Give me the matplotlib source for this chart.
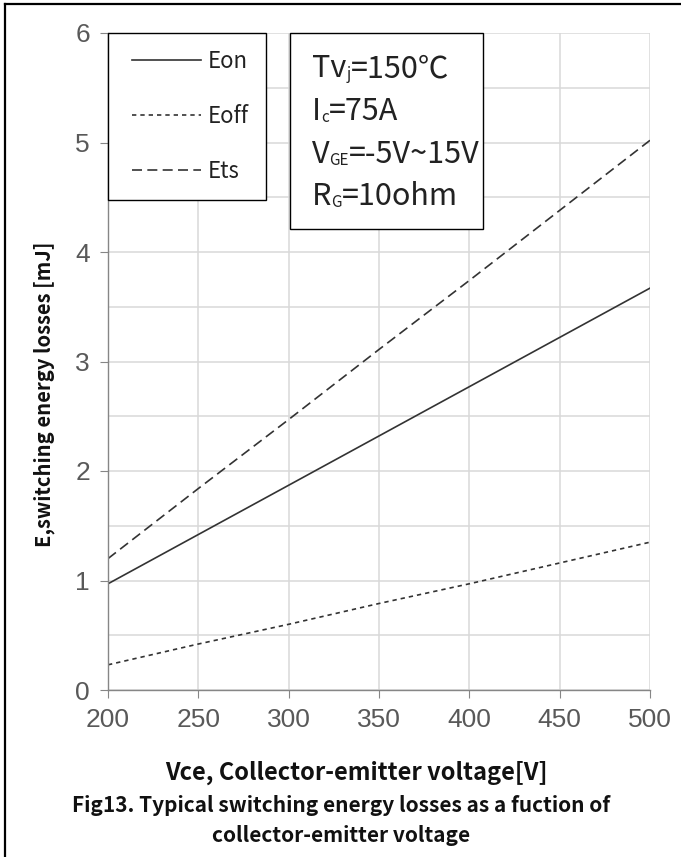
import matplotlib
matplotlib.use("Agg")
import matplotlib.pyplot as plt
from matplotlib.lines import Line2D
from matplotlib.patches import Rectangle
from matplotlib.legend_handler import HandlerLine2D

W, H = 681, 857

vce = [200, 250, 300, 350, 400, 450, 500]
eon = [0.97, 1.42, 1.87, 2.32, 2.77, 3.22, 3.67]
eoff = [0.23, 0.42, 0.60, 0.79, 0.97, 1.16, 1.35]
ets = [1.20, 1.84, 2.47, 3.11, 3.74, 4.38, 5.02]

x_ticks = [200, 250, 300, 350, 400, 450, 500]
y_ticks = [0, 1, 2, 3, 4, 5, 6]

CJK = ['Noto Sans CJK SC', 'DejaVu Sans']
LINE = '#333333'


def px(x, y):
    # pixel (from top-left) -> figure fraction
    return x / W, 1 - y / H


def rich(fig, renderer, x, y, parts, size, sub_size):
    for txt, sub in parts:
        fs = sub_size if sub else size
        dy = 2 if sub else 0
        fx, fy = px(x, y + dy)
        t = fig.text(fx, fy, txt, fontsize=fs, va='baseline', ha='left',
                     family=CJK, color='#222222')
        x += t.get_window_extent(renderer).width


fig = plt.figure(figsize=(W / 100, H / 100), dpi=100)
ax = fig.add_axes([108 / W, 1 - 690 / H, 542 / W, 657 / H])

ax.plot(vce, eon, color=LINE, lw=1.2, label='Eon')
ax.plot(vce, eoff, color=LINE, lw=1.2, dashes=(2.6, 2.4), label='Eoff')
ax.plot(vce, ets, color=LINE, lw=1.2, dashes=(6, 3.2), label='Ets')

ax.set_xlim(200, 500)
ax.set_ylim(0, 6)
ax.set_xticks(x_ticks)
ax.set_yticks(y_ticks)
ax.set_yticks([0.5, 1.5, 2.5, 3.5, 4.5, 5.5], minor=True)
ax.grid(True, which='both', color='#d9d9d9', lw=1.1)
ax.set_axisbelow(True)
for s in ['top', 'right']:
    ax.spines[s].set_visible(False)
for s in ['left', 'bottom']:
    ax.spines[s].set_color('#868686')
    ax.spines[s].set_linewidth(1.0)
ax.tick_params(which='major', direction='out', length=6, color='#868686',
               labelcolor='#595959', labelsize=19, pad=7)
ax.tick_params(which='minor', length=0)
for lab in ax.get_xticklabels() + ax.get_yticklabels():
    lab.set_family('Liberation Sans')

ax.set_ylabel('E,switching energy losses [mJ]', fontsize=14.5, fontweight='bold',
              family=CJK, color='#111111')
ax.yaxis.set_label_coords(-0.097, 0.45)

leg = ax.legend(loc='upper left', bbox_to_anchor=(0, 1), borderaxespad=0,
                fancybox=False, edgecolor='black', framealpha=1,
                handlelength=3.45, handletextpad=0.3, labelspacing=1.45,
                borderpad=0.75, prop={'family': CJK, 'size': 16},
                handler_map={Line2D: HandlerLine2D(xpad=0.35)})
leg.get_frame().set_linewidth(1.0)
for t in leg.get_texts():
    t.set_color('#222222')

fig.text(*px(356, 773), 'Vce, Collector-emitter voltage[V]', fontsize=17,
         fontweight='bold', family=CJK, ha='center', va='center', color='#111111')
fig.text(*px(341, 806), 'Fig13. Typical switching energy losses as a fuction of',
         fontsize=15, fontweight='bold', family=CJK, ha='center', va='center', color='#111111')
fig.text(*px(341, 836), 'collector-emitter voltage', fontsize=15, fontweight='bold',
         family=CJK, ha='center', va='center', color='#111111')

# condition box
bx0, by0, bx1, by1 = 290, 33, 483, 229
fig.patches.append(Rectangle(px(bx0, by1), (bx1 - bx0) / W, (by1 - by0) / H,
                             transform=fig.transFigure, facecolor='white',
                             edgecolor='black', lw=1.0, zorder=3))
r = fig.canvas.get_renderer()
rich(fig, r, 312, 77, [('Tv', False), ('j', True), ('=150℃', False)], 22, 11)
rich(fig, r, 312, 120, [('I', False), ('c', True), ('=75A', False)], 22, 11)
rich(fig, r, 312, 163, [('V', False), ('GE', True), ('=-5V~15V', False)], 22, 11)
rich(fig, r, 312, 205, [('R', False), ('G', True), ('=10ohm', False)], 22, 11)

# outer frame, left and top only
fig.lines.append(Line2D([5 / W, 5 / W], [0, 1 - 4 / H], transform=fig.transFigure,
                        color='black', lw=1.6))
fig.lines.append(Line2D([5 / W, 1], [1 - 4 / H, 1 - 4 / H], transform=fig.transFigure,
                        color='black', lw=1.6))

fig.savefig('out.png', dpi=100)
